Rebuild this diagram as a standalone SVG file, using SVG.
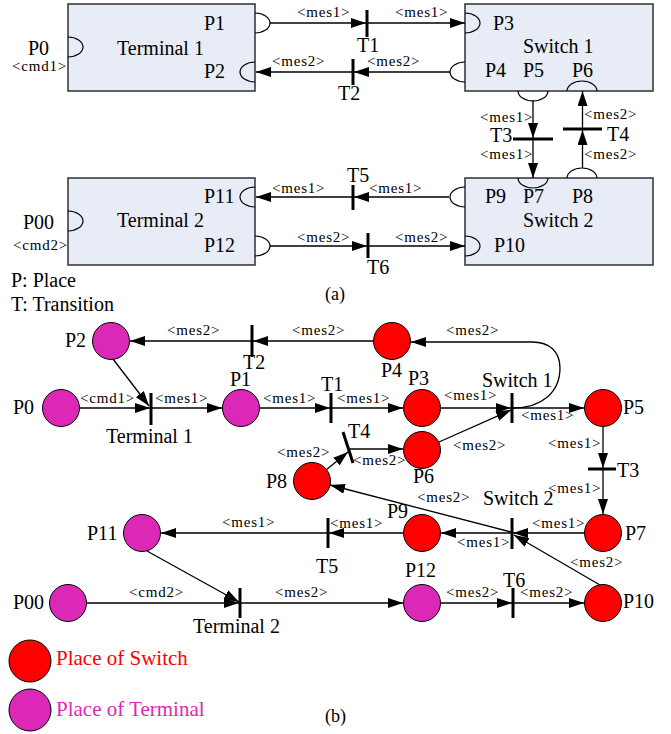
<svg xmlns="http://www.w3.org/2000/svg" width="671" height="734" viewBox="0 0 671 734" font-family="'Liberation Serif', 'Times New Roman', serif">
  <defs>
    <style>
      text { font-family: "Liberation Serif", "Times New Roman", serif; fill: #000; }
      .t { font-size: 20px; }
      .m { font-size: 15px; letter-spacing: 0.8px; }
      .lg { font-size: 21px; }
      .box { fill: #e7ecf6; stroke: #3c3c3c; stroke-width: 1.6; }
      .port { fill: none; stroke: #000; stroke-width: 1.2; }
      .ln { fill: none; stroke: #000; stroke-width: 1.3; marker-end: url(#ah); }
      .bar { stroke: #000; stroke-width: 3; }
      .sw { fill: #ff0000; stroke: #000; stroke-width: 1; }
      .tm { fill: #dc28b6; stroke: #000; stroke-width: 1; }
    </style>
    <marker id="ah" viewBox="0 0 15 10" refX="15" refY="5" markerWidth="15" markerHeight="10" markerUnits="userSpaceOnUse" orient="auto">
      <path d="M0,0 L15,5 L0,10 z" fill="#000"/>
    </marker>
  </defs>

  <!-- ===== (a) component view ===== -->
  <g id="terminal1">
    <rect class="box" x="68" y="4" width="187" height="87"/>
    <path class="port" d="M68,37 A15,10 0 0 1 68,57"/>
    <path class="port" d="M255,13 A15,10 0 0 1 255,33"/>
    <path class="port" d="M255,62 A15,10 0 0 0 255,82"/>
    <text class="t" x="28" y="55">P0</text>
    <text class="m" x="12" y="71">&lt;cmd1&gt;</text>
    <text class="t" x="204" y="30">P1</text>
    <text class="t" x="117" y="55">Terminal 1</text>
    <text class="t" x="204" y="78">P2</text>
  </g>

  <g id="switch1">
    <rect class="box" x="465" y="4" width="188" height="87"/>
    <path class="port" d="M465,13 A15,10 0 0 1 465,33"/>
    <path class="port" d="M465,62 A15,10 0 0 0 465,82"/>
    <path class="port" d="M518,91 A15,10 0 0 0 548,91"/>
    <path class="port" d="M567,91 A15,10 0 0 1 597,91"/>
    <text class="t" x="493" y="30">P3</text>
    <text class="t" x="523" y="53">Switch 1</text>
    <text class="t" x="485" y="77">P4</text>
    <text class="t" x="523" y="77">P5</text>
    <text class="t" x="572" y="77">P6</text>
  </g>

  <g id="terminal2">
    <rect class="box" x="68" y="178" width="187" height="87"/>
    <path class="port" d="M68,211 A15,10 0 0 1 68,231"/>
    <path class="port" d="M255,187 A15,10 0 0 0 255,207"/>
    <path class="port" d="M255,236 A15,10 0 0 1 255,256"/>
    <text class="t" x="23" y="229">P00</text>
    <text class="m" x="13" y="250">&lt;cmd2&gt;</text>
    <text class="t" x="204" y="203">P11</text>
    <text class="t" x="117" y="227">Terminal 2</text>
    <text class="t" x="204" y="252">P12</text>
  </g>

  <g id="switch2">
    <rect class="box" x="465" y="178" width="188" height="87"/>
    <path class="port" d="M465,187 A15,10 0 0 0 465,207"/>
    <path class="port" d="M465,236 A15,10 0 0 1 465,256"/>
    <path class="port" d="M518,178 A15,10 0 0 0 548,178"/>
    <path class="port" d="M567,178 A15,10 0 0 1 597,178"/>
    <text class="t" x="485" y="203">P9</text>
    <text class="t" x="523" y="203">P7</text>
    <text class="t" x="572" y="203">P8</text>
    <text class="t" x="523" y="227">Switch 2</text>
    <text class="t" x="494" y="252">P10</text>
  </g>

  <g id="a-T1"><line class="bar" x1="367" y1="10" x2="367" y2="37"/><text class="t" x="357" y="52">T1</text></g>
  <g id="a-T2"><line class="bar" x1="353" y1="59" x2="353" y2="85"/><text class="t" x="338" y="100">T2</text></g>
  <g id="a-T3"><line class="bar" x1="513" y1="139" x2="553" y2="139"/><text class="t" x="490" y="142">T3</text></g>
  <g id="a-T4"><line class="bar" x1="563" y1="129" x2="602" y2="129"/><text class="t" x="607" y="141">T4</text></g>
  <g id="a-T5"><line class="bar" x1="353" y1="185" x2="353" y2="210"/><text class="t" x="347" y="182">T5</text></g>
  <g id="a-T6"><line class="bar" x1="368" y1="233" x2="368" y2="258"/><text class="t" x="367" y="274">T6</text></g>

  <g id="a-connectors">
    <line class="ln" x1="270" y1="23" x2="366" y2="23"/>
    <line class="ln" x1="367" y1="23" x2="465" y2="23"/>
    <line class="ln" x1="450" y1="72" x2="354" y2="72"/>
    <line class="ln" x1="353" y1="72" x2="256" y2="72"/>
    <line class="ln" x1="533" y1="100" x2="533" y2="138"/>
    <line class="ln" x1="533" y1="139" x2="533" y2="178"/>
    <line class="ln" x1="582.5" y1="168" x2="582.5" y2="130"/>
    <line class="ln" x1="582.5" y1="129" x2="582.5" y2="91"/>
    <line class="ln" x1="449" y1="197" x2="354" y2="197"/>
    <line class="ln" x1="353" y1="197" x2="256" y2="197"/>
    <line class="ln" x1="270" y1="246" x2="367" y2="246"/>
    <line class="ln" x1="368" y1="246" x2="465" y2="246"/>
    <text class="m" x="297" y="17">&lt;mes1&gt;</text>
    <text class="m" x="395" y="17">&lt;mes1&gt;</text>
    <text class="m" x="272" y="66">&lt;mes2&gt;</text>
    <text class="m" x="367" y="66">&lt;mes2&gt;</text>
    <text class="m" x="480" y="122">&lt;mes1&gt;</text>
    <text class="m" x="480" y="159">&lt;mes1&gt;</text>
    <text class="m" x="584" y="119">&lt;mes2&gt;</text>
    <text class="m" x="584" y="159">&lt;mes2&gt;</text>
    <text class="m" x="272" y="193">&lt;mes1&gt;</text>
    <text class="m" x="369" y="193">&lt;mes1&gt;</text>
    <text class="m" x="297" y="242">&lt;mes2&gt;</text>
    <text class="m" x="395" y="242">&lt;mes2&gt;</text>
  </g>

  <text class="t" x="11" y="287">P: Place</text>
  <text class="t" x="11" y="311">T: Transition</text>
  <text class="t" x="325" y="300" style="font-size:18px">(a)</text>

  <!-- ===== (b) Petri net ===== -->
  <g id="b-P0"><circle class="tm" cx="61" cy="408" r="18.5"/><text class="t" x="13" y="414">P0</text></g>
  <g id="b-P1"><circle class="tm" cx="241" cy="408" r="18.5"/><text class="t" x="230" y="386">P1</text></g>
  <g id="b-P2"><circle class="tm" cx="111" cy="341" r="18.5"/><text class="t" x="65" y="347">P2</text></g>
  <g id="b-P3"><circle class="sw" cx="422" cy="408" r="18.5"/><text class="t" x="408" y="385">P3</text></g>
  <g id="b-P4"><circle class="sw" cx="392" cy="341" r="18.5"/><text class="t" x="381" y="377">P4</text></g>
  <g id="b-P5"><circle class="sw" cx="603" cy="408" r="18.5"/><text class="t" x="623" y="414">P5</text></g>
  <g id="b-P6"><circle class="sw" cx="422" cy="450" r="18.5"/><text class="t" x="413" y="483">P6</text></g>
  <g id="b-P7"><circle class="sw" cx="603" cy="533" r="18.5"/><text class="t" x="625" y="540">P7</text></g>
  <g id="b-P8"><circle class="sw" cx="312" cy="481" r="18.5"/><text class="t" x="266" y="488">P8</text></g>
  <g id="b-P9"><circle class="sw" cx="422" cy="533" r="18.5"/><text class="t" x="387" y="518">P9</text></g>
  <g id="b-P10"><circle class="sw" cx="603" cy="603" r="18.5"/><text class="t" x="623" y="608">P10</text></g>
  <g id="b-P11"><circle class="tm" cx="142" cy="533" r="18.5"/><text class="t" x="87" y="540">P11</text></g>
  <g id="b-P12"><circle class="tm" cx="422" cy="603" r="18.5"/><text class="t" x="405" y="577">P12</text></g>
  <g id="b-P00"><circle class="tm" cx="68" cy="603" r="18.5"/><text class="t" x="13" y="609">P00</text></g>

  <g id="b-Terminal1"><line class="bar" x1="151" y1="393" x2="151" y2="425"/><text class="t" x="106" y="443">Terminal 1</text></g>
  <g id="b-T1"><line class="bar" x1="331" y1="393" x2="331" y2="423"/><text class="t" x="321" y="391">T1</text></g>
  <g id="b-T2"><line class="bar" x1="252" y1="325" x2="252" y2="357"/><text class="t" x="243" y="369">T2</text></g>
  <g id="b-Switch1"><line class="bar" x1="512" y1="393" x2="512" y2="423"/><text class="t" x="482" y="387">Switch 1</text></g>
  <g id="b-T3"><line class="bar" x1="588" y1="469" x2="616" y2="469"/><text class="t" x="617" y="477">T3</text></g>
  <g id="b-T4"><line class="bar" x1="343" y1="432" x2="353" y2="463"/><text class="t" x="348" y="438">T4</text></g>
  <g id="b-Switch2"><line class="bar" x1="512" y1="518" x2="512" y2="549"/><text class="t" x="483" y="505">Switch 2</text></g>
  <g id="b-T5"><line class="bar" x1="328" y1="518" x2="328" y2="548"/><text class="t" x="316" y="573">T5</text></g>
  <g id="b-Terminal2"><line class="bar" x1="240" y1="588" x2="240" y2="618"/><text class="t" x="193" y="633">Terminal 2</text></g>
  <g id="b-T6"><line class="bar" x1="513" y1="588" x2="513" y2="618"/><text class="t" x="503" y="587">T6</text></g>

  <g id="b-connectors">
    <line class="ln" x1="80" y1="408" x2="150" y2="408"/>
    <line class="ln" x1="113" y1="359" x2="149" y2="406"/>
    <line class="ln" x1="152" y1="408" x2="222" y2="408"/>
    <line class="ln" x1="260" y1="408" x2="330" y2="408"/>
    <line class="ln" x1="332" y1="408" x2="403" y2="408"/>
    <line class="ln" x1="441" y1="408" x2="511" y2="408"/>
    <line class="ln" x1="439" y1="442" x2="511" y2="410"/>
    <line class="ln" x1="513" y1="408" x2="584" y2="408"/>
    <path class="ln" d="M513,408 C542,408 560,392 560,368 C560,352 550,342 532,342 L411,342"/>
    <line class="ln" x1="373" y1="341" x2="253" y2="341"/>
    <line class="ln" x1="251" y1="341" x2="130" y2="341"/>
    <line class="ln" x1="603" y1="427" x2="603" y2="468"/>
    <line class="ln" x1="603" y1="470" x2="603" y2="514"/>
    <line class="ln" x1="326" y1="470" x2="348" y2="452"/>
    <line class="ln" x1="350" y1="449" x2="403" y2="449"/>
    <line class="ln" x1="584" y1="533" x2="513" y2="533"/>
    <line class="ln" x1="511" y1="533" x2="441" y2="533"/>
    <line class="ln" x1="403" y1="533" x2="329" y2="533"/>
    <line class="ln" x1="327" y1="533" x2="161" y2="533"/>
    <line class="ln" x1="511" y1="532" x2="330" y2="485"/>
    <line class="ln" x1="600" y1="585" x2="514" y2="535"/>
    <line class="ln" x1="87" y1="603" x2="239" y2="603"/>
    <line class="ln" x1="147" y1="551" x2="239" y2="602"/>
    <line class="ln" x1="241" y1="603" x2="403" y2="603"/>
    <line class="ln" x1="441" y1="603" x2="512" y2="603"/>
    <line class="ln" x1="514" y1="603" x2="584" y2="603"/>

    <text class="m" x="80" y="403">&lt;cmd1&gt;</text>
    <text class="m" x="155" y="403">&lt;mes1&gt;</text>
    <text class="m" x="263" y="403">&lt;mes1&gt;</text>
    <text class="m" x="337" y="403">&lt;mes1&gt;</text>
    <text class="m" x="444" y="400">&lt;mes1&gt;</text>
    <text class="m" x="521" y="420">&lt;mes1&gt;</text>
    <text class="m" x="167" y="335">&lt;mes2&gt;</text>
    <text class="m" x="292" y="335">&lt;mes2&gt;</text>
    <text class="m" x="446" y="335">&lt;mes2&gt;</text>
    <text class="m" x="453" y="450">&lt;mes2&gt;</text>
    <text class="m" x="548" y="448">&lt;mes1&gt;</text>
    <text class="m" x="548" y="493">&lt;mes1&gt;</text>
    <text class="m" x="277" y="457">&lt;mes2&gt;</text>
    <text class="m" x="353" y="465">&lt;mes2&gt;</text>
    <text class="m" x="417" y="502">&lt;mes2&gt;</text>
    <text class="m" x="532" y="528">&lt;mes1&gt;</text>
    <text class="m" x="457" y="547">&lt;mes1&gt;</text>
    <text class="m" x="330" y="528">&lt;mes1&gt;</text>
    <text class="m" x="222" y="527">&lt;mes1&gt;</text>
    <text class="m" x="570" y="567">&lt;mes2&gt;</text>
    <text class="m" x="129" y="597">&lt;cmd2&gt;</text>
    <text class="m" x="275" y="597">&lt;mes2&gt;</text>
    <text class="m" x="446" y="597">&lt;mes2&gt;</text>
    <text class="m" x="520" y="597">&lt;mes2&gt;</text>
  </g>

  <g id="legend">
    <circle class="sw" cx="30" cy="661" r="21"/>
    <text class="lg" x="56" y="665" style="fill:#ff0000">Place of Switch</text>
    <circle class="tm" cx="30" cy="710" r="21"/>
    <text class="lg" x="56" y="716" style="fill:#dc28b6">Place of Terminal</text>
  </g>
  <text class="t" x="325" y="722" style="font-size:18px">(b)</text>
</svg>
